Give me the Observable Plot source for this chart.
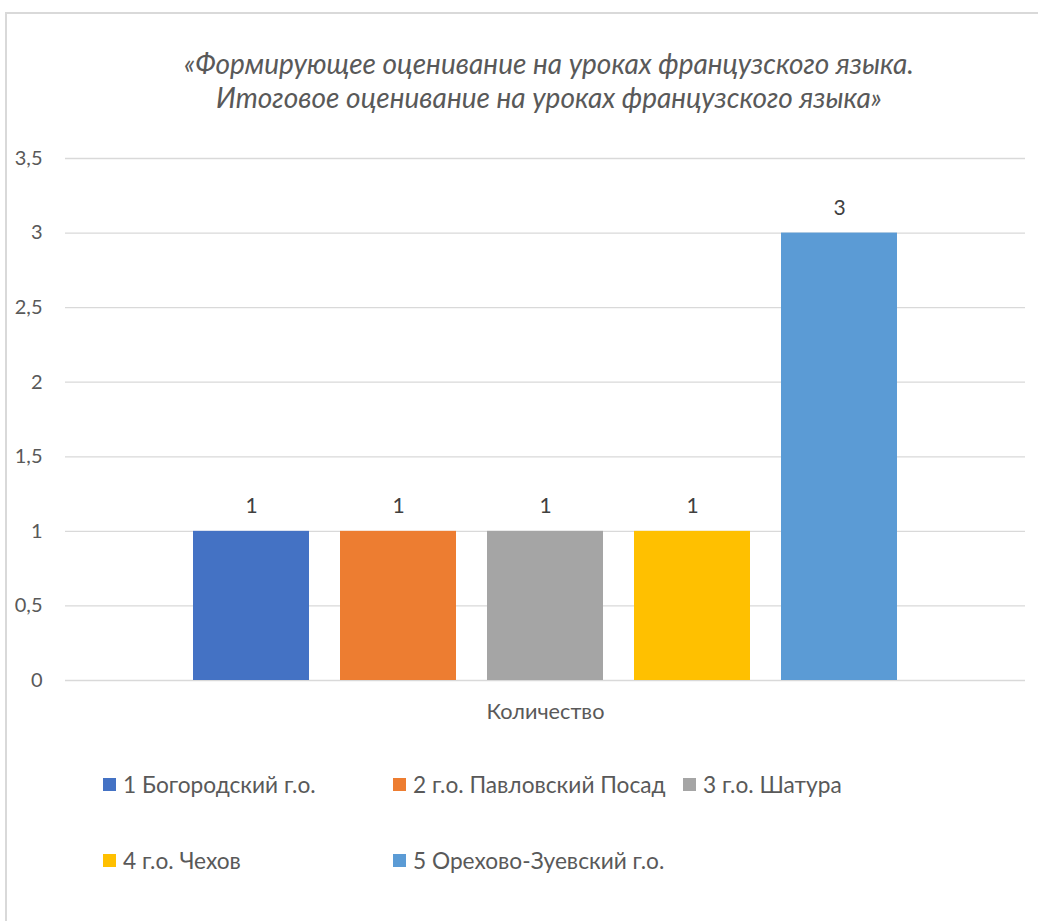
<!DOCTYPE html>
<html>
<head>
<meta charset="utf-8">
<script src="https://cdn.jsdelivr.net/npm/d3@7"></script>
<script src="https://cdn.jsdelivr.net/npm/@observablehq/plot@0.6"></script>
<style>
  body { margin: 0; background: #fff; font-family: Lato, "Open Sans", sans-serif; }
  #wrap { position: relative; width: 1038px; height: 921px; overflow: hidden; }
  #frame { position: absolute; left: 5px; top: 12px; width: 1100px; height: 1000px;
           border-top: 2px solid #d9d9d9; border-left: 2px solid #d9d9d9; }
  #title { position: relative; height: 140px; box-sizing: border-box; padding-top: 46px; padding-left: 60px;
           text-align: center; font-style: italic; font-size: 28px; line-height: 34px; color: #595959; white-space: nowrap; }
  #chart { position: relative; }
  .row { position: absolute; left: 103px; height: 24px; display: flex; align-items: center;
         font-size: 22.7px; color: #595959; white-space: nowrap; }
  .item { display: flex; align-items: center; flex-shrink: 0; }
  .sw { width: 13px; height: 13px; margin-right: 7px; flex-shrink: 0; }
</style>
</head>
<body>
<div id="wrap">
  <div id="frame"></div>
  <div id="title"></div>
  <div id="chart"></div>
  <div id="legend"></div>
</div>
<script>
const titleLines = ["«Формирующее оценивание на уроках французского языка.", "Итоговое оценивание на уроках французского языка»"];
const category = "Количество";
const seriesNames = ["1 Богородский г.о.", "2 г.о. Павловский Посад", "3 г.о. Шатура", "4 г.о. Чехов", "5 Орехово-Зуевский г.о."];
const seriesValues = [1, 1, 1, 1, 3];
const seriesColors = ["#4472C4", "#ED7D31", "#A5A5A5", "#FFC000", "#5B9BD5"];
const yTicks = [0, 0.5, 1, 1.5, 2, 2.5, 3, 3.5];
const legendRows = [[0, 1, 2], [3, 4]];

document.getElementById("title").innerHTML = titleLines.map(t => `<div>${t}</div>`).join("");

const data = seriesNames.map((name, i) => ({cat: category, name, value: seriesValues[i]}));

const chart = Plot.plot({
  width: 1038,
  height: 585,
  marginLeft: 65,
  marginRight: 13,
  marginTop: 18,
  marginBottom: 45,
  style: {fontFamily: "Lato, 'Open Sans', sans-serif", fontSize: "20px", color: "#595959", background: "transparent"},
  fx: {domain: [category], padding: 0},
  x: {domain: seriesNames, paddingInner: 0.214, paddingOuter: 0.861, axis: null},
  y: {domain: [0, 3.5]},
  color: {domain: seriesNames, range: seriesColors},
  marks: [
    Plot.ruleY(yTicks, {stroke: "#d9d9d9", strokeWidth: 1.3}),
    Plot.axisY({ticks: yTicks, tickSize: 0, tickPadding: 23, tickFormat: d => String(d).replace(".", ","), fill: "#595959", label: null}),
    Plot.axisFx({anchor: "bottom", tickSize: 0, tickPadding: 23, fill: "#595959", label: null, fontSize: 21.7}),
    Plot.barY(data, {fx: "cat", x: "name", y: "value", fill: "name"}),
    Plot.text(data, {fx: "cat", x: "name", y: "value", text: d => String(d.value), dy: -25, fill: "#404040", fontSize: 21})
  ]
});
document.getElementById("chart").appendChild(chart);

const legend = document.getElementById("legend");
const rowTops = [772, 848];
legendRows.forEach((row, r) => {
  const div = document.createElement("div");
  div.className = "row";
  div.style.top = rowTops[r] + "px";
  row.forEach((idx) => {
    const it = document.createElement("div");
    it.className = "item";
    it.style.width = "290px";
    it.innerHTML = `<span class="sw" style="background:${seriesColors[idx]}"></span><span>${seriesNames[idx]}</span>`;
    div.appendChild(it);
  });
  legend.appendChild(div);
});
</script>
</body>
</html>
